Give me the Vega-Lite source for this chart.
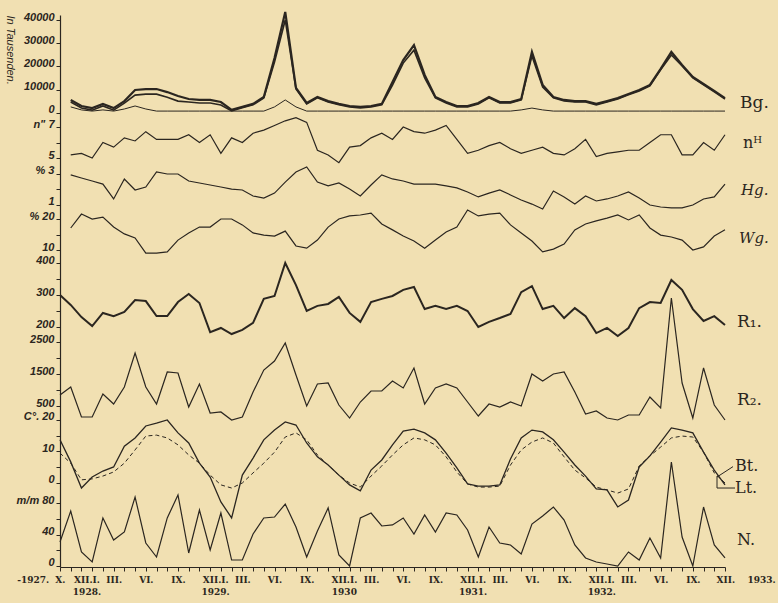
{
"$schema": "https://vega.github.io/schema/vega-lite/v6.json",
"autosize": {"type": "none"},
"width": 665, "height": 552,
"padding": {"left": 60, "top": 15, "right": 53, "bottom": 36},
"background": "#f1e0b2",
"config": {
 "view": {"stroke": null},
 "axis": {"grid": false, "domainColor": "#2b2620", "tickColor": "#2b2620", "labelColor": "#2b2620", "tickSize": 4, "domainWidth": 1.2},
 "line": {"color": "#2b2620"},
 "rule": {"color": "#2b2620"},
 "text": {"color": "#2b2620"}
},
"datasets": {"d": [
{"m":"1927-10","bgA":null,"bgB":null,"bgC":null,"nH":null,"hg":null,"wg":null,"r1":300,"r2":844,"bt":13.7,"lt":9.5,"n":30.5},
{"m":"1927-11","bgA":5500,"bgB":4600,"bgC":2500,"nH":5.2,"hg":2.94,"wg":17.1,"r1":269,"r2":1094,"bt":6.7,"lt":6.3,"n":69.8},
{"m":"1927-12","bgA":2900,"bgB":2000,"bgC":1200,"nH":5.3,"hg":2.74,"wg":21.6,"r1":231,"r2":156,"bt":-1.6,"lt":1.0,"n":17.8},
{"m":"1928-01","bgA":2000,"bgB":1100,"bgC":700,"nH":5.0,"hg":2.55,"wg":20.0,"r1":203,"r2":156,"bt":1.9,"lt":1.3,"n":5.1},
{"m":"1928-02","bgA":3800,"bgB":2900,"bgC":1200,"nH":6.0,"hg":2.35,"wg":20.6,"r1":244,"r2":875,"bt":3.8,"lt":2.2,"n":61.0},
{"m":"1928-03","bgA":2000,"bgB":1100,"bgC":700,"nH":5.7,"hg":1.39,"wg":17.4,"r1":234,"r2":563,"bt":5.1,"lt":3.5,"n":33.0},
{"m":"1928-04","bgA":5000,"bgB":4100,"bgC":1600,"nH":6.3,"hg":2.68,"wg":15.2,"r1":247,"r2":1094,"bt":11.7,"lt":6.3,"n":43.2},
{"m":"1928-05","bgA":9800,"bgB":7600,"bgC":2900,"nH":6.1,"hg":1.97,"wg":13.9,"r1":284,"r2":2156,"bt":14.3,"lt":10.5,"n":87.6},
{"m":"1928-06","bgA":10200,"bgB":8000,"bgC":1600,"nH":6.7,"hg":2.16,"wg":9.0,"r1":281,"r2":1094,"bt":18.1,"lt":14.9,"n":29.2},
{"m":"1928-07","bgA":10200,"bgB":8000,"bgC":700,"nH":6.2,"hg":3.13,"wg":9.0,"r1":234,"r2":563,"bt":19.0,"lt":15.2,"n":11.4},
{"m":"1928-08","bgA":8900,"bgB":6700,"bgC":700,"nH":6.2,"hg":3.0,"wg":9.4,"r1":234,"r2":1563,"bt":20.0,"lt":14.3,"n":61.0},
{"m":"1928-09","bgA":7200,"bgB":5000,"bgC":700,"nH":6.2,"hg":3.0,"wg":13.2,"r1":278,"r2":1531,"bt":15.9,"lt":12.1,"n":90.2},
{"m":"1928-10","bgA":5900,"bgB":4600,"bgC":700,"nH":6.5,"hg":2.55,"wg":15.5,"r1":303,"r2":469,"bt":12.7,"lt":8.9,"n":16.5},
{"m":"1928-11","bgA":5500,"bgB":4200,"bgC":700,"nH":6.0,"hg":2.42,"wg":17.4,"r1":275,"r2":1188,"bt":6.3,"lt":6.3,"n":71.1},
{"m":"1928-12","bgA":5500,"bgB":4200,"bgC":700,"nH":6.5,"hg":2.29,"wg":17.4,"r1":184,"r2":281,"bt":1.9,"lt":2.5,"n":20.3},
{"m":"1929-01","bgA":4600,"bgB":3300,"bgC":700,"nH":5.3,"hg":2.16,"wg":20.0,"r1":197,"r2":313,"bt":-6.0,"lt":-0.6,"n":67.3},
{"m":"1929-02","bgA":1200,"bgB":800,"bgC":700,"nH":6.3,"hg":2.03,"wg":20.0,"r1":178,"r2":63,"bt":-11.1,"lt":-1.6,"n":7.6},
{"m":"1929-03","bgA":2500,"bgB":2100,"bgC":700,"nH":6.0,"hg":1.97,"wg":18.1,"r1":191,"r2":156,"bt":2.5,"lt":0,"n":7.6},
{"m":"1929-04","bgA":3800,"bgB":3400,"bgC":700,"nH":6.6,"hg":1.58,"wg":15.5,"r1":213,"r2":938,"bt":7.9,"lt":3.2,"n":40.6},
{"m":"1929-05","bgA":6800,"bgB":6400,"bgC":700,"nH":6.8,"hg":1.45,"wg":14.8,"r1":288,"r2":1625,"bt":13.7,"lt":6.3,"n":61.0},
{"m":"1929-06","bgA":23600,"bgB":21900,"bgC":2500,"nH":7.1,"hg":1.77,"wg":14.5,"r1":297,"r2":1906,"bt":16.8,"lt":9.8,"n":62.2},
{"m":"1929-07","bgA":43500,"bgB":40000,"bgC":5500,"nH":7.4,"hg":2.48,"wg":16.1,"r1":400,"r2":2469,"bt":19.4,"lt":14.6,"n":78.7},
{"m":"1929-08","bgA":10700,"bgB":10300,"bgC":2500,"nH":7.6,"hg":3.13,"wg":11.3,"r1":331,"r2":1469,"bt":18.4,"lt":15.9,"n":49.5},
{"m":"1929-09","bgA":4200,"bgB":3800,"bgC":700,"nH":7.3,"hg":3.45,"wg":10.6,"r1":250,"r2":500,"bt":12.7,"lt":13.7,"n":11.4},
{"m":"1929-10","bgA":6800,"bgB":6400,"bgC":700,"nH":5.5,"hg":2.48,"wg":13.2,"r1":266,"r2":1188,"bt":8.3,"lt":8.9,"n":44.4},
{"m":"1929-11","bgA":5000,"bgB":4600,"bgC":700,"nH":5.2,"hg":2.23,"wg":17.4,"r1":272,"r2":1219,"bt":5.7,"lt":5.7,"n":73.7},
{"m":"1929-12","bgA":3800,"bgB":3400,"bgC":700,"nH":4.7,"hg":2.42,"wg":20.0,"r1":294,"r2":531,"bt":2.5,"lt":2.5,"n":14.0},
{"m":"1930-01","bgA":2900,"bgB":2500,"bgC":700,"nH":5.7,"hg":2.03,"wg":21.0,"r1":244,"r2":125,"bt":-0.6,"lt":0,"n":0},
{"m":"1930-02","bgA":2500,"bgB":2100,"bgC":700,"nH":5.8,"hg":1.58,"wg":21.3,"r1":216,"r2":625,"bt":-2.5,"lt":-1.3,"n":61.0},
{"m":"1930-03","bgA":2900,"bgB":2500,"bgC":700,"nH":6.3,"hg":2.29,"wg":21.9,"r1":278,"r2":969,"bt":4.1,"lt":2.2,"n":67.3},
{"m":"1930-04","bgA":3800,"bgB":3400,"bgC":700,"nH":6.6,"hg":2.94,"wg":18.4,"r1":288,"r2":969,"bt":7.3,"lt":5.4,"n":50.8},
{"m":"1930-05","bgA":13200,"bgB":11900,"bgC":700,"nH":6.2,"hg":2.68,"wg":16.5,"r1":297,"r2":1281,"bt":12.1,"lt":8.9,"n":52.1},
{"m":"1930-06","bgA":22700,"bgB":21400,"bgC":700,"nH":7.0,"hg":2.55,"wg":14.5,"r1":316,"r2":1063,"bt":16.5,"lt":12.1,"n":61.0},
{"m":"1930-07","bgA":29200,"bgB":27000,"bgC":700,"nH":6.7,"hg":2.35,"wg":12.9,"r1":325,"r2":1688,"bt":17.1,"lt":14.3,"n":40.6},
{"m":"1930-08","bgA":16300,"bgB":15000,"bgC":700,"nH":6.6,"hg":2.35,"wg":10.6,"r1":256,"r2":563,"bt":15.9,"lt":13.7,"n":64.8},
{"m":"1930-09","bgA":6800,"bgB":6400,"bgC":700,"nH":6.8,"hg":2.35,"wg":13.2,"r1":266,"r2":1063,"bt":13.7,"lt":12.1,"n":43.2},
{"m":"1930-10","bgA":4600,"bgB":4200,"bgC":700,"nH":7.1,"hg":2.23,"wg":15.8,"r1":256,"r2":1188,"bt":9.5,"lt":8.3,"n":67.3},
{"m":"1930-11","bgA":2900,"bgB":2500,"bgC":700,"nH":6.2,"hg":2.10,"wg":17.4,"r1":266,"r2":1063,"bt":4.8,"lt":3.5,"n":64.8},
{"m":"1930-12","bgA":2900,"bgB":2500,"bgC":700,"nH":5.3,"hg":1.84,"wg":22.9,"r1":250,"r2":625,"bt":-0.3,"lt":-0.3,"n":45.7},
{"m":"1931-01","bgA":4200,"bgB":3800,"bgC":700,"nH":5.5,"hg":1.52,"wg":21.0,"r1":200,"r2":188,"bt":-1.0,"lt":-1.3,"n":11.4},
{"m":"1931-02","bgA":6800,"bgB":6400,"bgC":700,"nH":5.8,"hg":1.77,"wg":21.6,"r1":216,"r2":563,"bt":-1.0,"lt":-1.3,"n":49.5},
{"m":"1931-03","bgA":4600,"bgB":4200,"bgC":700,"nH":6.0,"hg":1.97,"wg":21.9,"r1":228,"r2":469,"bt":-0.6,"lt":-1.0,"n":29.2},
{"m":"1931-04","bgA":4600,"bgB":4200,"bgC":700,"nH":5.6,"hg":1.65,"wg":18.1,"r1":241,"r2":625,"bt":7.6,"lt":5.7,"n":26.7},
{"m":"1931-05","bgA":5900,"bgB":5500,"bgC":1200,"nH":5.3,"hg":1.32,"wg":15.5,"r1":309,"r2":500,"bt":14.3,"lt":10.5,"n":15.2},
{"m":"1931-06","bgA":26200,"bgB":24500,"bgC":2000,"nH":5.5,"hg":1.06,"wg":12.9,"r1":328,"r2":1500,"bt":16.8,"lt":13.0,"n":53.3},
{"m":"1931-07","bgA":12000,"bgB":11100,"bgC":1200,"nH":5.7,"hg":0.74,"wg":9.4,"r1":256,"r2":1281,"bt":16.2,"lt":14.3,"n":63.5},
{"m":"1931-08","bgA":6800,"bgB":6400,"bgC":700,"nH":5.3,"hg":1.90,"wg":10.3,"r1":266,"r2":1500,"bt":13.7,"lt":12.7,"n":74.9},
{"m":"1931-09","bgA":5500,"bgB":5100,"bgC":700,"nH":5.2,"hg":1.52,"wg":11.9,"r1":228,"r2":1563,"bt":9.8,"lt":8.3,"n":58.4},
{"m":"1931-10","bgA":5000,"bgB":4600,"bgC":700,"nH":5.6,"hg":1.06,"wg":16.5,"r1":259,"r2":938,"bt":5.7,"lt":4.1,"n":26.7},
{"m":"1931-11","bgA":5000,"bgB":4600,"bgC":700,"nH":6.2,"hg":1.58,"wg":18.4,"r1":234,"r2":250,"bt":2.2,"lt":1.6,"n":10.2},
{"m":"1931-12","bgA":3800,"bgB":3400,"bgC":700,"nH":5.1,"hg":1.26,"wg":19.4,"r1":181,"r2":344,"bt":-1.9,"lt":-1.3,"n":5.1},
{"m":"1932-01","bgA":5000,"bgB":4600,"bgC":700,"nH":5.3,"hg":1.39,"wg":20.3,"r1":197,"r2":125,"bt":-2.2,"lt":-2.2,"n":2.5},
{"m":"1932-02","bgA":6300,"bgB":5900,"bgC":700,"nH":5.4,"hg":1.58,"wg":21.3,"r1":172,"r2":63,"bt":-7.6,"lt":-3.2,"n":0},
{"m":"1932-03","bgA":8100,"bgB":7700,"bgC":700,"nH":5.5,"hg":1.84,"wg":19.7,"r1":197,"r2":219,"bt":-5.4,"lt":-1.9,"n":17.8},
{"m":"1932-04","bgA":9800,"bgB":9400,"bgC":700,"nH":5.5,"hg":1.45,"wg":21.3,"r1":259,"r2":219,"bt":5.1,"lt":5.4,"n":7.6},
{"m":"1932-05","bgA":12000,"bgB":11600,"bgC":700,"nH":6.0,"hg":1.0,"wg":17.1,"r1":278,"r2":781,"bt":8.6,"lt":8.6,"n":35.6},
{"m":"1932-06","bgA":18900,"bgB":18500,"bgC":700,"nH":6.5,"hg":0.87,"wg":14.8,"r1":275,"r2":438,"bt":13.0,"lt":11.4,"n":10.2},
{"m":"1932-07","bgA":26200,"bgB":24900,"bgC":700,"nH":6.5,"hg":0.81,"wg":14.2,"r1":347,"r2":3875,"bt":17.5,"lt":14.3,"n":132.1},
{"m":"1932-08","bgA":20600,"bgB":20200,"bgC":700,"nH":5.2,"hg":0.81,"wg":13.2,"r1":316,"r2":1219,"bt":16.8,"lt":14.9,"n":36.8},
{"m":"1932-09","bgA":15400,"bgB":15000,"bgC":700,"nH":5.2,"hg":1.0,"wg":10.0,"r1":256,"r2":125,"bt":15.9,"lt":14.6,"n":0},
{"m":"1932-10","bgA":12400,"bgB":12000,"bgC":700,"nH":6.0,"hg":1.39,"wg":11.0,"r1":219,"r2":1688,"bt":9.8,"lt":9.8,"n":74.9},
{"m":"1932-11","bgA":9400,"bgB":9000,"bgC":700,"nH":5.5,"hg":1.52,"wg":14.5,"r1":234,"r2":531,"bt":4.1,"lt":3.2,"n":26.7},
{"m":"1932-12","bgA":6300,"bgB":5900,"bgC":700,"nH":6.5,"hg":2.35,"wg":16.5,"r1":206,"r2":63,"bt":-0.6,"lt":0,"n":10.2}
]},
"data": {"name": "d"},
"encoding": {
 "x": {"field": "m", "type": "ordinal", "scale": {"type": "point", "padding": 0},
  "axis": {"title": null, "orient": "bottom", "labelAngle": 0, "labelOverlap": false, "labelFont": "DejaVu Serif", "labelFontWeight": "bold", "labelFontSize": 9, "labelPadding": 4, "labelBaseline": "top", "labelLineHeight": 12, "tickSize": 4,
   "labelAlign": {"condition": [{"test": "datum.value == '1927-10'", "value": "right"}, {"test": "datum.value == '1932-12'", "value": "left"}], "value": "center"},
   "labelOffset": {"condition": [{"test": "datum.value == '1927-10'", "value": 5}, {"test": "datum.value == '1932-12'", "value": -9}, {"test": "substring(datum.value,5,7) == '12'", "value": 5}], "value": 0},
   "labelExpr": "datum.value == '1927-10' ? '-1927.\u00a0\u00a0X.' : datum.value == '1932-12' ? 'XII.\u00a0\u00a0\u00a0\u00a01933.' : substring(datum.value,5,7) == '12' ? ['XII.I.', substring(datum.value,0,4) == '1929' ? '1930' : (+substring(datum.value,0,4) + 1) + '.'] : substring(datum.value,5,7) == '03' ? 'III.' : substring(datum.value,5,7) == '06' ? 'VI.' : substring(datum.value,5,7) == '09' ? 'IX.' : ''"}}
},
"resolve": {"scale": {"y": "independent"}, "axis": {"y": "independent"}},
"layer": [
 {"layer": [
  {"mark": {"type": "line", "strokeWidth": 2.2}, "encoding": {"y": {"field": "bgA", "type": "quantitative", "scale": {"domain": [-196030, 42158], "nice": false, "zero": false},
    "axis": {"orient": "left", "title": null, "domain": true, "values": [0, 10000, 20000, 30000, 40000], "format": "d", "labelFont": "Liberation Sans", "labelFontStyle": "italic", "labelFontWeight": "bold", "labelFontSize": 11, "labelBaseline": "alphabetic", "labelPadding": 2}}}},
  {"mark": {"type": "line", "strokeWidth": 1.6}, "encoding": {"y": {"field": "bgB", "type": "quantitative", "scale": {"domain": [-196030, 42158], "nice": false, "zero": false}, "axis": {"orient": "left", "title": null}}}},
  {"mark": {"type": "line", "strokeWidth": 1}, "encoding": {"y": {"field": "bgC", "type": "quantitative", "scale": {"domain": [-196030, 42158], "nice": false, "zero": false}, "axis": {"orient": "left", "title": null}}}},
  {"data": {"values": [{"m": "1932-12", "v": 4200, "t": "Bg."}]}, "mark": {"type": "text", "align": "left", "baseline": "middle", "dx": 15, "font": "DejaVu Serif", "fontSize": 17},
   "encoding": {"y": {"field": "v", "type": "quantitative", "scale": {"domain": [-196030, 42158], "nice": false, "zero": false}, "axis": {"orient": "left", "title": null}}, "text": {"field": "t"}}},
  {"data": {"values": [{"m": "1927-10", "v": 27000, "t": "In Tausenden."}]}, "mark": {"type": "text", "align": "center", "baseline": "middle", "angle": 90, "xOffset": -50, "font": "Liberation Sans", "fontStyle": "italic", "fontSize": 11},
   "encoding": {"y": {"field": "v", "type": "quantitative", "scale": {"domain": [-196030, 42158], "nice": false, "zero": false}, "axis": {"orient": "left", "title": null}}, "text": {"field": "t"}}}
 ]},
 {"layer": [
  {"mark": {"type": "line", "strokeWidth": 1.2}, "encoding": {"y": {"field": "nH", "type": "quantitative", "scale": {"domain": [-21.387, 14.226], "nice": false, "zero": false},
    "axis": {"orient": "left", "title": null, "domain": false, "values": [5, 6, 7], "labelExpr": "datum.value == 7 ? 'n\" 7' : datum.value == 5 ? '5' : ''", "labelFont": "Liberation Sans", "labelFontStyle": "italic", "labelFontWeight": "bold", "labelFontSize": 11, "labelBaseline": "alphabetic", "labelPadding": 2}}}},
  {"data": {"values": [{"m": "1932-12", "v": 5.97, "t": "nᴴ"}]}, "mark": {"type": "text", "align": "left", "baseline": "middle", "dx": 18, "font": "DejaVu Serif", "fontSize": 16},
   "encoding": {"y": {"field": "v", "type": "quantitative", "scale": {"domain": [-21.387, 14.226], "nice": false, "zero": false}, "axis": {"orient": "left", "title": null}}, "text": {"field": "t"}}}
 ]},
 {"layer": [
  {"mark": {"type": "line", "strokeWidth": 1.2}, "encoding": {"y": {"field": "hg", "type": "quantitative", "scale": {"domain": [-22.355, 13.258], "nice": false, "zero": false},
    "axis": {"orient": "left", "title": null, "domain": false, "values": [1, 2, 3], "labelExpr": "datum.value == 3 ? '% 3' : datum.value == 1 ? '1' : ''", "labelFont": "Liberation Sans", "labelFontStyle": "italic", "labelFontWeight": "bold", "labelFontSize": 11, "labelBaseline": "alphabetic", "labelPadding": 2}}}},
  {"data": {"values": [{"m": "1932-12", "v": 1.97, "t": "Hg."}]}, "mark": {"type": "text", "align": "left", "baseline": "middle", "dx": 16, "font": "DejaVu Serif", "fontStyle": "italic", "fontSize": 15},
   "encoding": {"y": {"field": "v", "type": "quantitative", "scale": {"domain": [-22.355, 13.258], "nice": false, "zero": false}, "axis": {"orient": "left", "title": null}}, "text": {"field": "t"}}}
 ]},
 {"layer": [
  {"mark": {"type": "line", "strokeWidth": 1.2}, "encoding": {"y": {"field": "wg", "type": "quantitative", "scale": {"domain": [-92.26, 85.81], "nice": false, "zero": false},
    "axis": {"orient": "left", "title": null, "domain": false, "values": [10, 15, 20], "labelExpr": "datum.value == 20 ? '% 20' : datum.value == 10 ? '10' : ''", "labelFont": "Liberation Sans", "labelFontStyle": "italic", "labelFontWeight": "bold", "labelFontSize": 11, "labelBaseline": "alphabetic", "labelPadding": 2}}}},
  {"data": {"values": [{"m": "1932-12", "v": 13.9, "t": "Wg."}]}, "mark": {"type": "text", "align": "left", "baseline": "middle", "dx": 14, "font": "DejaVu Serif", "fontStyle": "italic", "fontSize": 15},
   "encoding": {"y": {"field": "v", "type": "quantitative", "scale": {"domain": [-92.26, 85.81], "nice": false, "zero": false}, "axis": {"orient": "left", "title": null}}, "text": {"field": "t"}}}
 ]},
 {"layer": [
  {"mark": {"type": "line", "strokeWidth": 2}, "encoding": {"y": {"field": "r1", "type": "quantitative", "scale": {"domain": [-550, 1175], "nice": false, "zero": false},
    "axis": {"orient": "left", "title": null, "domain": false, "values": [200, 250, 300, 350, 400], "labelExpr": "datum.value % 100 == 0 ? datum.value + '' : ''", "labelFont": "Liberation Sans", "labelFontStyle": "italic", "labelFontWeight": "bold", "labelFontSize": 11, "labelBaseline": "alphabetic", "labelPadding": 2}}}},
  {"data": {"values": [{"m": "1932-12", "v": 216, "t": "R₁."}]}, "mark": {"type": "text", "align": "left", "baseline": "middle", "dx": 12, "font": "DejaVu Serif", "fontSize": 17},
   "encoding": {"y": {"field": "v", "type": "quantitative", "scale": {"domain": [-550, 1175], "nice": false, "zero": false}, "axis": {"orient": "left", "title": null}}, "text": {"field": "t"}}}
 ]},
 {"layer": [
  {"mark": {"type": "line", "strokeWidth": 1.2}, "encoding": {"y": {"field": "r2", "type": "quantitative", "scale": {"domain": [-4531, 12719], "nice": false, "zero": false},
    "axis": {"orient": "left", "title": null, "domain": false, "values": [500, 1000, 1500, 2000, 2500], "labelExpr": "(datum.value / 500) % 2 == 1 ? datum.value + '' : ''", "labelFont": "Liberation Sans", "labelFontStyle": "italic", "labelFontWeight": "bold", "labelFontSize": 11, "labelBaseline": "alphabetic", "labelPadding": 2}}}},
  {"data": {"values": [{"m": "1932-12", "v": 688, "t": "R₂."}]}, "mark": {"type": "text", "align": "left", "baseline": "middle", "dx": 12, "font": "DejaVu Serif", "fontSize": 17},
   "encoding": {"y": {"field": "v", "type": "quantitative", "scale": {"domain": [-4531, 12719], "nice": false, "zero": false}, "axis": {"orient": "left", "title": null}}, "text": {"field": "t"}}}
 ]},
 {"layer": [
  {"mark": {"type": "line", "strokeWidth": 1.3}, "encoding": {"y": {"field": "bt", "type": "quantitative", "scale": {"domain": [-26.67, 148.57], "nice": false, "zero": false},
    "axis": {"orient": "left", "title": null, "domain": false, "values": [0, 5, 10, 15, 20], "labelExpr": "datum.value == 20 ? 'C°. 20' : datum.value % 10 == 0 ? datum.value + '' : ''", "labelFont": "Liberation Sans", "labelFontStyle": "italic", "labelFontWeight": "bold", "labelFontSize": 11, "labelBaseline": "alphabetic", "labelPadding": 2}}}},
  {"mark": {"type": "line", "strokeWidth": 1, "strokeDash": [4, 3]}, "encoding": {"y": {"field": "lt", "type": "quantitative", "scale": {"domain": [-26.67, 148.57], "nice": false, "zero": false}, "axis": {"orient": "left", "title": null}}}},
  {"data": {"values": [{"m": "1932-12", "v": 1.9, "v2": 5.2}]}, "mark": {"type": "rule", "strokeWidth": 1, "xOffset": -8, "x2Offset": 8},
   "encoding": {"x2": {"field": "m"}, "y": {"field": "v", "type": "quantitative", "scale": {"domain": [-26.67, 148.57], "nice": false, "zero": false}, "axis": {"orient": "left", "title": null}}, "y2": {"field": "v2"}}},
  {"data": {"values": [{"m": "1932-12", "v": 2.2, "v2": -1.6}]}, "mark": {"type": "rule", "strokeWidth": 1, "xOffset": -8},
   "encoding": {"y": {"field": "v", "type": "quantitative", "scale": {"domain": [-26.67, 148.57], "nice": false, "zero": false}, "axis": {"orient": "left", "title": null}}, "y2": {"field": "v2"}}},
  {"data": {"values": [{"m": "1932-12", "v": -1.6}]}, "mark": {"type": "rule", "strokeWidth": 1, "xOffset": -8, "x2Offset": 10},
   "encoding": {"x2": {"field": "m"}, "y": {"field": "v", "type": "quantitative", "scale": {"domain": [-26.67, 148.57], "nice": false, "zero": false}, "axis": {"orient": "left", "title": null}}}},
  {"data": {"values": [{"m": "1932-12", "v": 5.4, "t": "Bt."}, {"m": "1932-12", "v": -1.6, "t": "Lt."}]}, "mark": {"type": "text", "align": "left", "baseline": "middle", "dx": 10, "font": "DejaVu Serif", "fontSize": 16},
   "encoding": {"y": {"field": "v", "type": "quantitative", "scale": {"domain": [-26.67, 148.57], "nice": false, "zero": false}, "axis": {"orient": "left", "title": null}}, "text": {"field": "t"}}}
 ]},
 {"layer": [
  {"mark": {"type": "line", "strokeWidth": 1.2}, "encoding": {"y": {"field": "n", "type": "quantitative", "scale": {"domain": [-1.27, 699.7], "nice": false, "zero": false},
    "axis": {"orient": "left", "title": null, "domain": false, "values": [0, 20, 40, 60, 80], "labelExpr": "datum.value == 80 ? 'm/m 80' : datum.value % 40 == 0 ? datum.value + '' : ''", "labelFont": "Liberation Sans", "labelFontStyle": "italic", "labelFontWeight": "bold", "labelFontSize": 11, "labelBaseline": "alphabetic", "labelPadding": 2}}}},
  {"data": {"values": [{"m": "1932-12", "v": 33, "t": "N."}]}, "mark": {"type": "text", "align": "left", "baseline": "middle", "dx": 12, "font": "DejaVu Serif", "fontSize": 16},
   "encoding": {"y": {"field": "v", "type": "quantitative", "scale": {"domain": [-1.27, 699.7], "nice": false, "zero": false}, "axis": {"orient": "left", "title": null}}, "text": {"field": "t"}}}
 ]}
]
}
